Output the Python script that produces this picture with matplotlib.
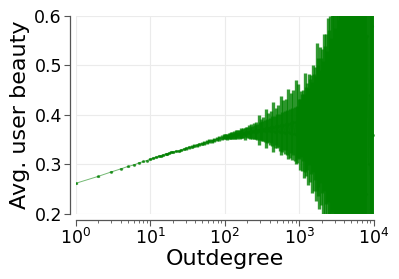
import matplotlib
matplotlib.use("Agg")
import matplotlib.pyplot as plt
from matplotlib.ticker import FixedLocator, FormatStrFormatter

# low outdegrees: one point per degree, then thinner sampling up to 100
deg_low = [1, 2, 3, 4, 5, 6, 7, 8, 9, 10, 11, 12, 13, 14, 15, 16, 17, 18, 19, 20,
           22, 24, 26, 28, 30, 33, 36, 39, 42, 45, 49, 53, 57, 62, 67, 72, 78,
           84, 91, 98]
beauty_low = [0.262, 0.276, 0.285, 0.291, 0.296, 0.299, 0.303, 0.306, 0.308, 0.311,
              0.313, 0.315, 0.317, 0.318, 0.320, 0.321, 0.322, 0.323, 0.325, 0.326,
              0.3264, 0.3281, 0.3297, 0.3311, 0.3325, 0.3343, 0.3360, 0.3376, 0.3390,
              0.3404, 0.3421, 0.3436, 0.3450, 0.3467, 0.3482, 0.3496, 0.3511, 0.3526,
              0.3542, 0.3556]
err_low = [0.001, 0.001, 0.001, 0.001, 0.001, 0.001, 0.001, 0.001, 0.0015, 0.0015,
           0.0015, 0.0015, 0.0015, 0.002, 0.002, 0.002, 0.002, 0.002, 0.002, 0.002,
           0.002, 0.002, 0.0022, 0.0024, 0.0025, 0.0026, 0.0028, 0.003, 0.003,
           0.0032, 0.0034, 0.0035, 0.0036, 0.0038, 0.004, 0.0042, 0.0044, 0.0046,
           0.0048, 0.005]

# 100 .. 1000
deg_mid = [100, 104, 108, 112, 117, 121, 126, 131, 136, 142, 147, 153, 159, 165,
           172, 178, 185, 193, 200, 208, 216, 225, 234, 243, 252, 262, 272, 283,
           294, 306, 318, 330, 343, 357, 371, 385, 400, 416, 432, 449, 467, 485,
           504, 524, 544, 566, 588, 611, 635, 660, 686, 713, 741, 770, 800, 831,
           864, 898, 933, 970]
beauty_mid = [0.356, 0.357, 0.356, 0.358, 0.357, 0.359, 0.358, 0.360, 0.359, 0.361,
              0.360, 0.362, 0.361, 0.363, 0.362, 0.364, 0.362, 0.365, 0.364, 0.366,
              0.364, 0.367, 0.365, 0.368, 0.366, 0.369, 0.366, 0.370, 0.367, 0.371,
              0.368, 0.372, 0.367, 0.373, 0.368, 0.374, 0.367, 0.375, 0.368, 0.376,
              0.366, 0.377, 0.367, 0.378, 0.365, 0.379, 0.366, 0.380, 0.364, 0.381,
              0.365, 0.382, 0.363, 0.384, 0.362, 0.385, 0.361, 0.386, 0.360, 0.388]
err_mid = [0.005, 0.005, 0.006, 0.006, 0.006, 0.007, 0.007, 0.008, 0.007, 0.008,
           0.009, 0.008, 0.009, 0.010, 0.009, 0.010, 0.012, 0.010, 0.011, 0.013,
           0.012, 0.014, 0.013, 0.016, 0.014, 0.017, 0.016, 0.030, 0.018, 0.021,
           0.020, 0.024, 0.022, 0.040, 0.024, 0.029, 0.027, 0.032, 0.030, 0.050,
           0.032, 0.038, 0.034, 0.042, 0.037, 0.060, 0.040, 0.050, 0.043, 0.052,
           0.046, 0.070, 0.049, 0.060, 0.052, 0.066, 0.055, 0.085, 0.058, 0.075]

# 1000 .. 7000, densely sampled
deg_high = [1000, 1030, 1061, 1093, 1126, 1159, 1194, 1230, 1267, 1305, 1344, 1384,
            1426, 1469, 1513, 1558, 1605, 1653, 1702, 1754, 1806, 1860, 1916, 1974,
            2033, 2094, 2157, 2221, 2288, 2357, 2427, 2500, 2575, 2652, 2732, 2814,
            2898, 2985, 3075, 3167, 3262, 3360, 3461, 3565, 3671, 3782, 3895, 4012,
            4132, 4256, 4384, 4515, 4651, 4790, 4934, 5082, 5235, 5392, 5553, 5720,
            5891, 6068, 6250, 6438, 6631, 6830]
beauty_high = [0.372, 0.360, 0.382, 0.365, 0.378, 0.358, 0.385, 0.366, 0.376, 0.356,
               0.390, 0.368, 0.380, 0.355, 0.392, 0.365, 0.382, 0.352, 0.396, 0.368,
               0.385, 0.350, 0.400, 0.366, 0.388, 0.348, 0.405, 0.370, 0.392, 0.345,
               0.410, 0.372, 0.395, 0.340, 0.420, 0.375, 0.398, 0.335, 0.430, 0.370,
               0.405, 0.330, 0.440, 0.365, 0.410, 0.320, 0.450, 0.360, 0.420, 0.310,
               0.465, 0.355, 0.430, 0.300, 0.480, 0.350, 0.440, 0.285, 0.495, 0.345,
               0.455, 0.270, 0.510, 0.340, 0.465, 0.255]
err_high = [0.060, 0.072, 0.066, 0.078, 0.072, 0.085, 0.100, 0.090, 0.088, 0.098,
            0.092, 0.104, 0.100, 0.112, 0.108, 0.118, 0.114, 0.126, 0.150, 0.132,
            0.130, 0.140, 0.138, 0.148, 0.146, 0.160, 0.158, 0.170, 0.172, 0.185,
            0.185, 0.200, 0.205, 0.215, 0.215, 0.228, 0.232, 0.240, 0.240, 0.250,
            0.255, 0.262, 0.262, 0.272, 0.278, 0.285, 0.285, 0.295, 0.300, 0.308,
            0.308, 0.318, 0.322, 0.330, 0.330, 0.340, 0.345, 0.352, 0.352, 0.362,
            0.366, 0.372, 0.372, 0.382, 0.386, 0.392]

# sparse tail near 10^4
deg_tail = [7100, 7400, 7650, 7900, 8200, 8500, 8800, 9100, 9400, 9700]
beauty_tail = [0.520, 0.330, 0.470, 0.240, 0.560, 0.300, 0.440, 0.210, 0.580, 0.360]
err_tail = [0.40, 0.40, 0.41, 0.41, 0.42, 0.42, 0.43, 0.43, 0.44, 0.44]

y_ticks = [0.2, 0.3, 0.4, 0.5, 0.6]

outdegree = deg_low + deg_mid + deg_high + deg_tail
avg_beauty = beauty_low + beauty_mid + beauty_high + beauty_tail
beauty_err = err_low + err_mid + err_high + err_tail

fig = plt.figure(figsize=(3.99, 2.79), dpi=100)
ax = fig.add_axes([0.19, 0.233, 0.747, 0.71])

eb = ax.errorbar(outdegree, avg_beauty, yerr=beauty_err, fmt=".-", color="green",
                 ecolor="green", ms=2.5, lw=0.7, elinewidth=2.4, zorder=3)
eb[0].set_alpha(0.55)
for bars in eb[2]:
    bars.set_alpha(0.8)

ax.set_xscale("log")
ax.set_xlim(1, 1e4)
ax.set_ylim(0.2, 0.6)
ax.yaxis.set_major_locator(FixedLocator(y_ticks))
ax.yaxis.set_major_formatter(FormatStrFormatter("%.1f"))

ax.grid(True, which="major", color="#ebebeb", lw=0.8, zorder=0)
for s in ("top", "right"):
    ax.spines[s].set_visible(False)
for s in ("left", "bottom"):
    ax.spines[s].set_position(("outward", 4))
    ax.spines[s].set_color("#555555")
    ax.spines[s].set_linewidth(0.9)
ax.tick_params(which="major", length=4, color="#555555", labelsize=12.5, pad=2)
ax.tick_params(which="minor", length=2, color="#555555")

ax.set_xlabel("Outdegree", fontsize=16, labelpad=1)
ax.set_ylabel("Avg. user beauty", fontsize=16, labelpad=3)

fig.savefig("out.png", dpi=100, facecolor="white")
